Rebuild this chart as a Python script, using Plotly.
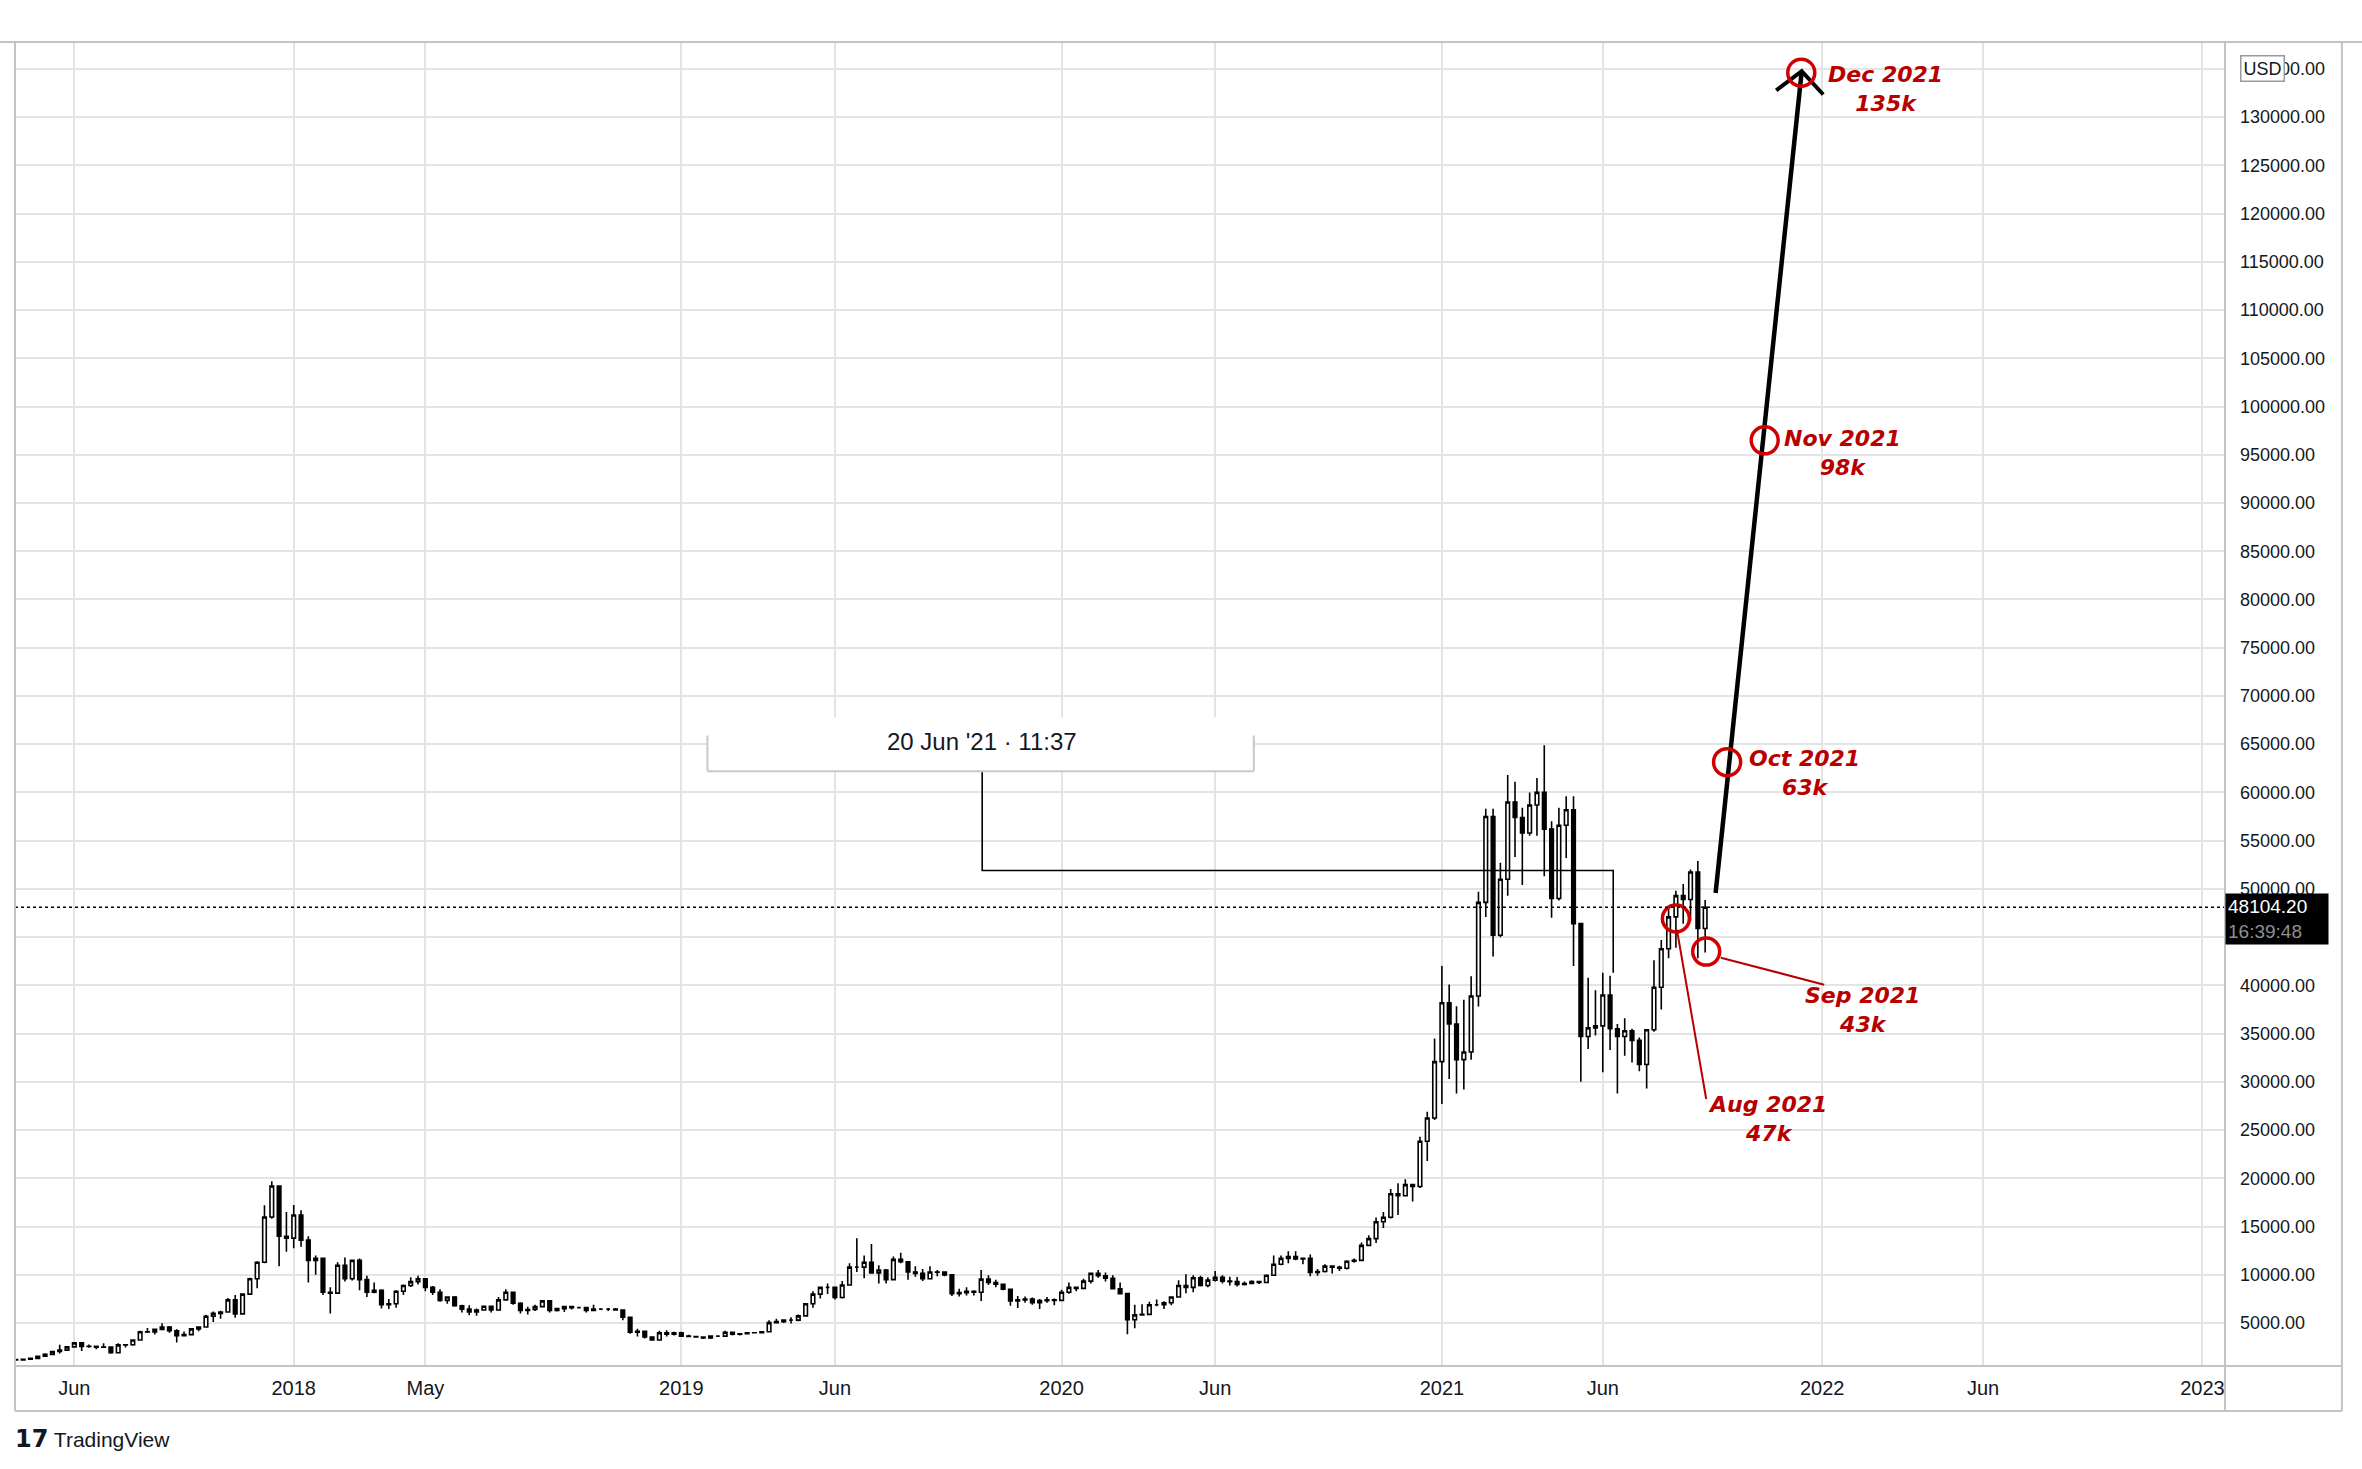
import pandas as pd
import plotly.graph_objects as go

# weekly BTC/USD bars, first bar opens on this Monday
first_week = "2017-04-10"

opens = [
    1208, 1175, 1250, 1340, 1560, 1760, 2060, 2200, 2530, 2950, 2570, 2580, 2500, 2520, 1930, 2740,
    2750, 3250, 4100, 4090, 4350, 4600, 4200, 3700, 3800, 4400, 4600, 5700, 6000, 6150, 7400, 5950,
    8000, 9600, 11300, 16000, 19200, 14000,
    13800, 16200, 13600, 11500, 11700, 8200, 8100, 11000, 9600, 11500, 9500, 8200, 8400, 6900, 7000,
    8300, 8900, 9300, 9600, 8700, 8200, 7350, 7700, 6800, 6450, 6150, 6350, 6750, 6350, 7400, 8200,
    7050, 6300, 6400, 6700, 7300, 6300, 6500, 6700, 6600, 6600, 6300, 6450, 6450, 6450, 6350, 5600,
    4050, 4150, 3550, 3250, 4000, 3850,
    4000, 3650, 3600, 3550, 3450, 3650, 3650, 4050, 3850, 3900, 4000, 3990, 4100, 5050, 5150, 5300,
    5300, 5750, 7000, 8000, 8700, 8700, 7650, 8950, 10800, 10800, 11300, 10200, 10500, 9500, 11600,
    11350, 10300, 10150, 9600, 10300, 10280, 9990, 8050, 8150, 8300, 8200, 9550, 9200, 9030, 8500,
    7300, 7400, 7500, 7100, 7330, 7400,
    7350, 8200, 8700, 8600, 9350, 10150, 9900, 9650, 8550, 8050, 5350, 5850, 5900, 6900, 6900, 7100,
    7700, 8900, 8700, 9700, 8900, 9450, 9750, 9350, 9300, 9000, 9100, 9300, 9200, 9950, 11100, 11700,
    11900, 11650, 11700, 10250, 10350, 10900, 10780, 10680, 11400, 11500, 13050, 13750, 15500, 15970,
    18400, 18200, 19350, 19150, 23850, 26250,
    32100, 38200, 36000, 32300, 33100, 38900, 48600, 57500, 45200, 51000, 59000, 57400, 55800, 58700,
    60000, 56200, 49000, 56600, 58200, 46400, 34700, 35600, 35800, 39000, 35500, 34700, 35300, 34300,
    31800, 35400, 39800, 43800, 47100, 49300, 48900, 51750, 45900,
]
highs = [
    1215, 1260, 1350, 1590, 1860, 2100, 2760, 2580, 2980, 2990, 2780, 2610, 2920, 2530, 2920, 2800,
    3300, 4200, 4480, 4400, 4980, 4700, 4350, 4120, 4470, 4620, 5860, 6200, 6280, 7600, 7900, 8100,
    9700, 11400, 17200, 19700, 19200, 16500,
    17250, 16700, 14000, 12000, 11800, 8700, 11300, 11800, 11500, 11700, 9900, 9200, 8500, 7500, 8400,
    9000, 9750, 9900, 9650, 8850, 8500, 7760, 7800, 6900, 6850, 6500, 6800, 6800, 7700, 8500, 8200,
    7150, 6700, 6900, 7400, 7400, 6600, 6800, 6800, 6650, 6650, 6900, 6500, 6550, 6550, 6400, 5600,
    4400, 4200, 3600, 4200, 4250, 4100,
    4100, 3800, 3650, 3560, 3700, 3700, 4200, 4100, 3950, 4050, 4080, 4150, 5300, 5450, 5400, 5600,
    5900, 7050, 8300, 8750, 9100, 8800, 9350, 11200, 13800, 12000, 13200, 11000, 10600, 11900, 12300,
    11400, 10900, 10600, 10900, 10500, 10300, 10050, 8550, 8700, 8400, 10500, 9950, 9500, 9100, 8550,
    7800, 7750, 7650, 7500, 7700, 7550,
    8450, 9200, 8800, 9600, 10150, 10500, 10250, 9950, 9200, 8150, 6900, 6950, 7200, 7450, 7250, 7700,
    9450, 10050, 9950, 9900, 9750, 10400, 9950, 9800, 9780, 9300, 9450, 9350, 10000, 12000, 12000,
    12450, 12450, 11800, 12100, 10600, 11100, 10950, 10950, 11500, 11700, 13350, 14100, 15950, 16500,
    18900, 19500, 19900, 19450, 24300, 26900, 34500,
    42000, 40100, 37850, 38500, 40950, 49700, 58300, 58300, 52700, 61800, 61100, 58400, 60000, 61500,
    64900, 57000, 58400, 59600, 59600, 46500, 40800, 39500, 41300, 41000, 36000, 36600, 35500, 34600,
    35400, 42600, 44700, 48100, 49800, 50500, 52000, 52900, 48850,
]
lows = [
    1160, 1170, 1240, 1330, 1550, 1670, 1850, 2150, 2520, 2100, 2450, 2280, 2480, 1830, 1900, 2480,
    2650, 3230, 3970, 3820, 4300, 4000, 2980, 3600, 3800, 4150, 4570, 5100, 5450, 6100, 5550, 5850,
    7900, 8600, 11200, 15800, 10900, 12400,
    12750, 12900, 9200, 10000, 7900, 6000, 8000, 9300, 9400, 8400, 7700, 8100, 6500, 6450, 6600,
    7900, 8750, 9000, 8300, 7900, 7200, 7000, 6700, 6100, 5800, 5750, 6300, 6100, 6300, 7350, 6900,
    6000, 5900, 6250, 6650, 6100, 6200, 6150, 6400, 6500, 6100, 6300, 6380, 6250, 6300, 5300, 3900,
    3600, 3400, 3200, 3250, 3600, 3700,
    3550, 3550, 3500, 3350, 3350, 3550, 3650, 3700, 3700, 3830, 3950, 3920, 4100, 4950, 5000, 4950,
    5200, 5750, 6600, 7550, 8000, 7450, 7550, 8950, 10300, 9650, 11200, 9100, 9100, 9400, 11200,
    9500, 9800, 9350, 9600, 9850, 9850, 7800, 7750, 7850, 7850, 7300, 8950, 8700, 8400, 6800,
    6550, 7100, 6900, 6450, 7100, 6850,
    7300, 8050, 8300, 8550, 9100, 9700, 9300, 8500, 8000, 3850, 4450, 5800, 5850, 6750, 6450, 6850,
    7650, 8100, 8200, 8800, 8700, 9300, 9100, 8900, 8800, 8900, 9100, 9050, 9150, 9900, 11000,
    11200, 11500, 11100, 9850, 9900, 10250, 10150, 10400, 10550, 11250, 11400, 12950, 13300, 14850,
    15850, 16200, 18200, 17600, 19000, 21800, 26050,
    27700, 30300, 28800, 29200, 32300, 37800, 47100, 43000, 45000, 49300, 53300, 50400, 55500, 55500,
    51300, 47000, 48800, 53200, 42000, 30000, 33400, 34800, 31000, 33300, 28800, 32700, 32000, 31100,
    29300, 35200, 37500, 42800, 43900, 46400, 46700, 42800, 43400,
]
closes = [
    1175, 1250, 1340, 1560, 1760, 2060, 2200, 2530, 2950, 2570, 2580, 2500, 2520, 1930, 2740, 2750,
    3250, 4100, 4090, 4350, 4600, 4200, 3700, 3800, 4400, 4600, 5700, 6000, 6150, 7400, 5950, 8000,
    9600, 11300, 16000, 19200, 14000, 13800,
    16200, 13600, 11500, 11700, 8200, 8100, 11000, 9600, 11500, 9500, 8200, 8400, 6900, 7000, 8300,
    8900, 9300, 9600, 8700, 8200, 7350, 7700, 6800, 6450, 6150, 6350, 6750, 6350, 7400, 8200, 7050,
    6300, 6400, 6700, 7300, 6300, 6500, 6700, 6600, 6600, 6300, 6450, 6450, 6450, 6350, 5600, 4050,
    4150, 3550, 3250, 4000, 3850, 4000,
    3650, 3600, 3550, 3450, 3650, 3650, 4050, 3850, 3900, 4000, 3990, 4100, 5050, 5150, 5300, 5300,
    5750, 7000, 8000, 8700, 8700, 7650, 8950, 10800, 10800, 11300, 10200, 10500, 9500, 11600, 11350,
    10300, 10150, 9600, 10300, 10280, 9990, 8050, 8150, 8300, 8200, 9550, 9200, 9030, 8500, 7300,
    7400, 7500, 7100, 7330, 7400, 7350,
    8200, 8700, 8600, 9350, 10150, 9900, 9650, 8550, 8050, 5350, 5850, 5900, 6900, 6900, 7100, 7700,
    8900, 8700, 9700, 8900, 9450, 9750, 9350, 9300, 9000, 9100, 9300, 9200, 9950, 11100, 11700,
    11900, 11650, 11700, 10250, 10350, 10900, 10780, 10680, 11400, 11500, 13050, 13750, 15500, 15970,
    18400, 18200, 19350, 19150, 23850, 26250, 32100,
    38200, 36000, 32300, 33100, 38900, 48600, 57500, 45200, 51000, 59000, 57400, 55800, 58700, 60000,
    56200, 49000, 56600, 58200, 46400, 34700, 35600, 35800, 39000, 35500, 34700, 35300, 34300, 31800,
    35400, 39800, 43800, 47100, 49300, 48900, 51750, 45900, 48104.2,
]

tick_dates = ["2017-06-05", "2018-01-01", "2018-05-07", "2019-01-07", "2019-06-03", "2020-01-06",
              "2020-06-01", "2021-01-04", "2021-06-07", "2022-01-03", "2022-06-06", "2023-01-02"]
tick_labels = ["Jun", "2018", "May", "2019", "Jun", "2020", "Jun", "2021", "Jun", "2022", "Jun", "2023"]
price_ticks = list(range(5000, 140000, 5000))
# 45000 sits under the last-price badge
price_labels = ["" if p == 45000 else f"{p:.2f}" for p in price_ticks]

last_price = 48104.20
countdown = "16:39:48"
tooltip_text = "20 Jun '21 · 11:37"

# hand drawn projection
proj_dates = ["2021-09-23", "2021-12-14 10:00"]
proj_values = [49580, 134750]
chevron_dates = ["2021-11-20", "2021-12-14 10:00", "2022-01-04"]
chevron_values = [132760, 134750, 132340]

target_months = ["Aug 2021", "Sep 2021", "Oct 2021", "Nov 2021", "Dec 2021"]
target_prices = ["47k", "43k", "63k", "98k", "135k"]
circle_dates = ["2021-08-16", "2021-09-14", "2021-10-04", "2021-11-09", "2021-12-14"]
circle_values = [46930, 43500, 63140, 96490, 134600]
label_dates = ["2021-11-12", "2022-02-11", "2021-12-17", "2022-01-22", "2022-03-05"]
label_values = [26120, 37500, 61970, 95170, 132880]

SANS = "Liberation Sans, Arial"
RED = "#b80000"
GRID = "#e4e4e4"
FRAME = "#c4c4c4"

weeks = pd.date_range(first_week, periods=len(closes), freq="7D")

fig = go.Figure()

# callout connector (drawn under the candles)
fig.add_scatter(x=["2019-10-22", "2019-10-22", "2021-06-17", "2021-06-17"],
                y=[62200, 51910, 51910, 41300], mode="lines",
                line=dict(color="black", width=1.6), hoverinfo="skip", showlegend=False)

fig.add_candlestick(x=weeks, open=opens, high=highs, low=lows, close=closes,
                    increasing=dict(line=dict(color="black", width=1.6), fillcolor="white"),
                    decreasing=dict(line=dict(color="black", width=1.6), fillcolor="black"),
                    whiskerwidth=0, showlegend=False, name="BTCUSD")

fig.add_scatter(x=proj_dates, y=proj_values, mode="lines",
                line=dict(color="black", width=4.5), hoverinfo="skip", showlegend=False)
fig.add_scatter(x=chevron_dates, y=chevron_values, mode="lines",
                line=dict(color="black", width=4), hoverinfo="skip", showlegend=False)

fig.add_scatter(x=circle_dates, y=circle_values, mode="markers",
                marker=dict(symbol="circle-open", size=27, color="#d00000", line=dict(width=3.5)),
                hoverinfo="skip", showlegend=False)

# leader lines for Aug / Sep labels
fig.add_shape(type="line", x0="2021-08-17", y0=45770, x1="2021-09-14", y1=28220,
              line=dict(color=RED, width=2))
fig.add_shape(type="line", x0="2021-09-28", y0=42870, x1="2022-01-05", y1=40070,
              line=dict(color=RED, width=2))

for d, v, m, p in zip(label_dates, label_values, target_months, target_prices):
    fig.add_annotation(x=d, y=v, text=f"<b><i>{m}<br>{p}</i></b>", showarrow=False,
                       font=dict(family="DejaVu Sans", size=22, color=RED))

# tooltip box
fig.add_shape(type="rect", x0="2019-02-01", x1="2020-07-08", y0=62200, y1=67800,
              fillcolor="white", line=dict(width=0), layer="above")
for seg in [("2019-02-01", 65900, "2019-02-01", 62200),
            ("2019-02-01", 62200, "2020-07-08", 62200),
            ("2020-07-08", 62200, "2020-07-08", 65900)]:
    fig.add_shape(type="line", x0=seg[0], y0=seg[1], x1=seg[2], y1=seg[3],
                  line=dict(color="#c8c8c8", width=2))
fig.add_annotation(x="2019-10-22", y=65300, text=tooltip_text, showarrow=False,
                   font=dict(family=SANS, size=24, color="#131722"))

# last price line and label
fig.add_shape(type="line", xref="paper", x0=0, x1=1, y0=last_price, y1=last_price,
              line=dict(color="black", width=1.6, dash="dot"))
fig.add_annotation(xref="paper", x=1, xanchor="left", y=last_price, yshift=-12,
                   text=f"{last_price:.2f}<br><span style='color:#8f8f8f'>{countdown}</span>",
                   showarrow=False, align="left", bgcolor="black", width=98, height=46,
                   borderpad=2, font=dict(family=SANS, size=19, color="white"))

fig.add_annotation(xref="paper", x=1.0271, y=135000, text="USD", showarrow=False,
                   bgcolor="white", bordercolor="#9a9a9a", borderwidth=1.5, borderpad=2,
                   font=dict(family=SANS, size=18, color="#131722"))

fig.add_annotation(xref="paper", yref="paper", x=-0.001, y=-0.067, xanchor="left",
                   text="<span style='font-family:DejaVu Sans;font-size:24px'><b>17</b></span> TradingView",
                   showarrow=False, font=dict(family=SANS, size=21, color="#131722"))

# chart frame
frame = [(-0.0068, 1, 1.062, 1), (0, -0.034, 0, 1), (1.0529, -0.034, 1.0529, 1),
         (0, -0.034, 1.0529, -0.034), (0, 0, 1.0529, 0), (1, -0.034, 1, 1)]
for x0, y0, x1, y1 in frame:
    fig.add_shape(type="line", xref="paper", yref="paper", x0=x0, y0=y0, x1=x1, y1=y1,
                  line=dict(color=FRAME, width=2))

fig.update_layout(
    width=2362, height=1469,
    margin=dict(l=15, r=137, t=42, b=103),
    paper_bgcolor="white", plot_bgcolor="white",
    showlegend=False,
    xaxis=dict(type="date", range=["2017-04-09 05:00", "2023-01-23 14:00"],
               tickvals=tick_dates, ticktext=tick_labels, showgrid=True, gridcolor=GRID,
               gridwidth=1.5, zeroline=False, showline=False, ticks="",
               ticklabelstandoff=8, rangeslider=dict(visible=False),
               tickfont=dict(family=SANS, size=20, color="#131722")),
    yaxis=dict(side="right", range=[550, 137780], tickvals=price_ticks, ticktext=price_labels,
               showgrid=True, gridcolor=GRID, gridwidth=1.5, zeroline=False, showline=False,
               ticks="", ticklabelstandoff=14,
               tickfont=dict(family=SANS, size=18, color="#131722")),
)

fig.write_html("out.html", config={"displayModeBar": False},
               post_script="document.body.style.margin='0';")
